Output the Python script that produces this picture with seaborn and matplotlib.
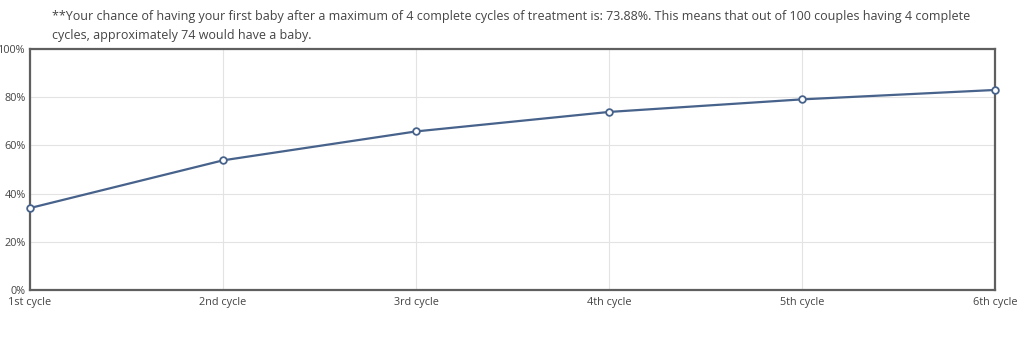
import matplotlib
matplotlib.use("Agg")
import matplotlib.pyplot as plt
import seaborn as sns
import pandas as pd
from matplotlib.ticker import FuncFormatter

cycles = ["1st cycle", "2nd cycle", "3rd cycle", "4th cycle", "5th cycle", "6th cycle"]
chance = [34.0, 53.8, 65.8, 73.88, 79.1, 83.0]
y_ticks = [0, 20, 40, 60, 80, 100]
note_text = ("**Your chance of having your first baby after a maximum of 4 complete cycles of treatment is: 73.88%. "
             "This means that out of 100 couples having 4 complete\ncycles, approximately 74 would have a baby.")

sns.set_theme(style="white")
plt.rcParams["font.family"] = ["Open Sans", "DejaVu Sans"]

df = pd.DataFrame({"cycle": list(range(len(cycles))), "chance": chance})

fig = plt.figure(figsize=(10.23, 3.40), dpi=100)
ax = fig.add_axes([30 / 1023, 50 / 340, 965 / 1023, 241 / 340])

line_color = "#47628b"
sns.lineplot(data=df, x="cycle", y="chance", ax=ax, color=line_color, linewidth=1.6,
             marker="o", markersize=4.8, markerfacecolor="white",
             markeredgecolor=line_color, markeredgewidth=1.3, clip_on=False, zorder=5)

ax.set_xlim(0, len(cycles) - 1)
ax.set_ylim(0, 100)
ax.set_xticks(range(len(cycles)))
ax.set_xticklabels(cycles)
ax.set_yticks(y_ticks)
ax.yaxis.set_major_formatter(FuncFormatter(lambda v, p: f"{int(v)}%"))
ax.set_xlabel("")
ax.set_ylabel("")
ax.grid(True, color="#e3e3e3", linewidth=0.8)
ax.set_axisbelow(True)
for s in ax.spines.values():
    s.set_color("#5f5f5f")
    s.set_linewidth(1.6)
ax.tick_params(axis="both", length=0, labelsize=7.8, colors="#444444")
ax.tick_params(axis="x", pad=5)
ax.tick_params(axis="y", pad=3)

fig.text(52 / 1023, 1 - 10 / 340, note_text, ha="left", va="top", fontsize=9.0,
         color="#444444", linespacing=1.6)

fig.savefig("out.png", dpi=100)
